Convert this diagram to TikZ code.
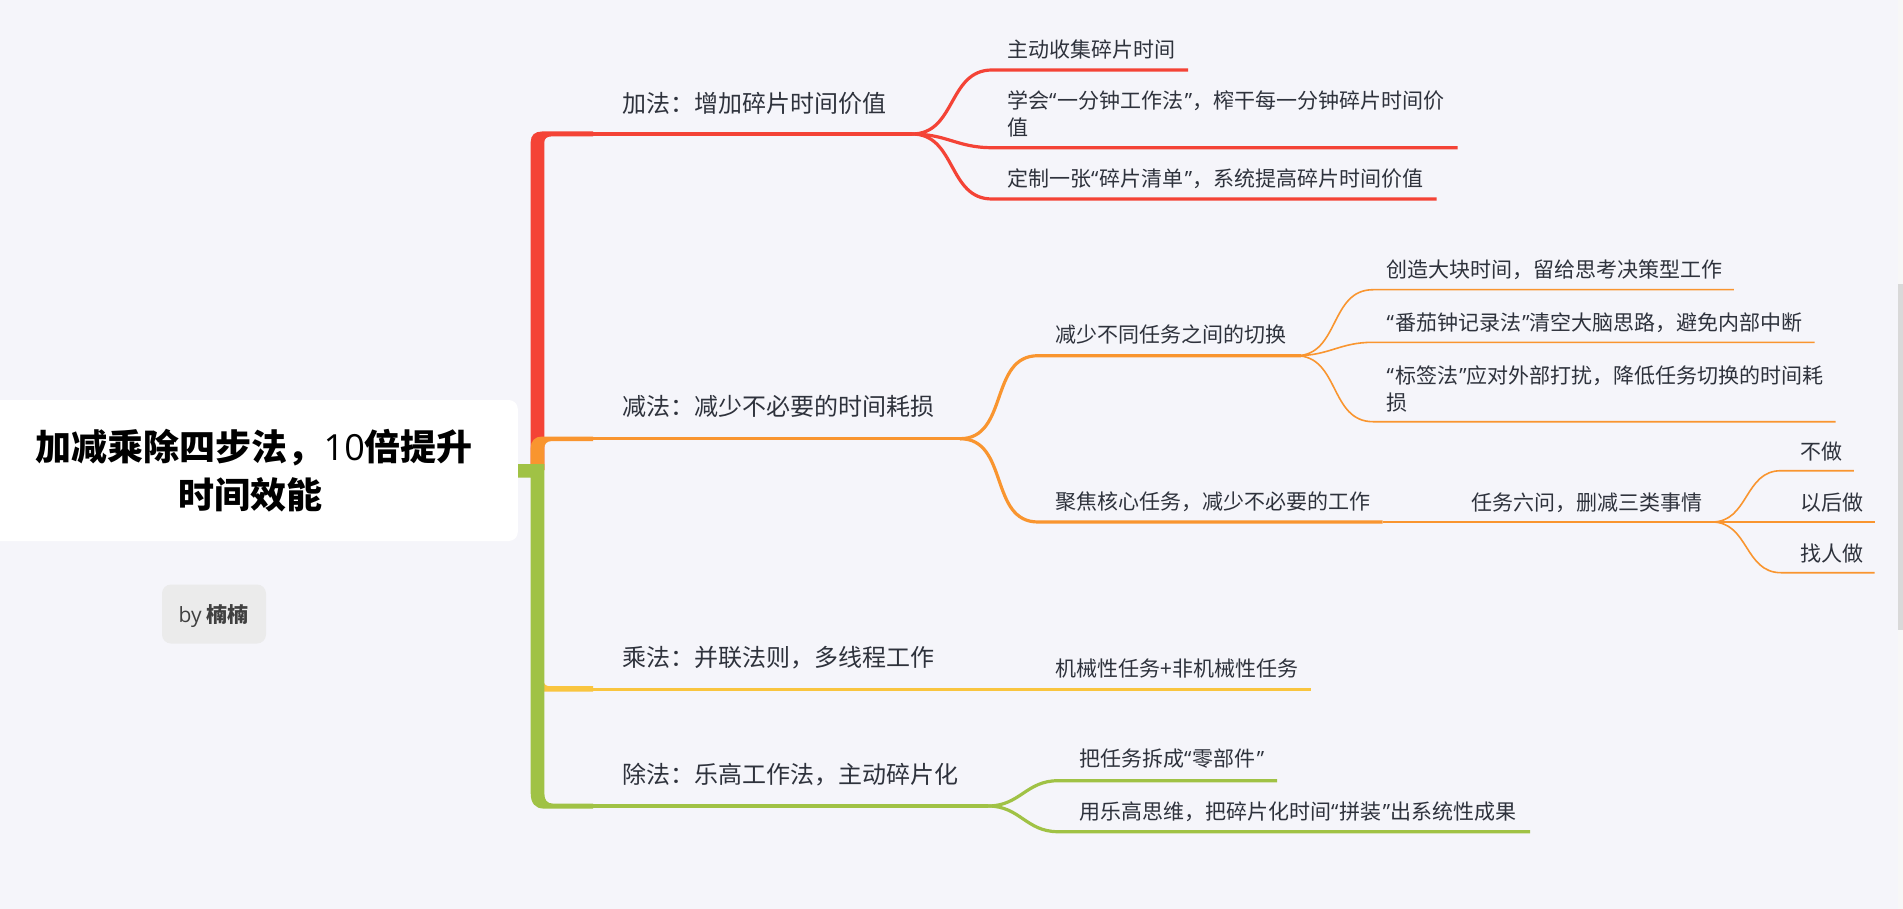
\documentclass[tikz,border=0pt]{standalone}
\usepackage{fontspec}
\setmainfont{Noto Sans CJK SC}
\newfontfamily\latn{Open Sans}
\newcommand{\lqm}{{\latn “}\hspace{1.2pt}}
\newcommand{\rqm}{\hspace{1.2pt}{\latn ”}}
\definecolor{bgc}{HTML}{F5F5FA}
\definecolor{redc}{HTML}{F44336}
\definecolor{orac}{HTML}{F9952F}
\definecolor{yelc}{HTML}{F9C53F}
\definecolor{grnc}{HTML}{A0C245}
\definecolor{txtc}{HTML}{2E323C}
\tikzset{
  topic/.style={anchor=west,inner sep=0pt,text=txtc,font=\fontsize{24}{30}\selectfont},
  leaf/.style={anchor=west,inner sep=0pt,text=txtc,align=left,font=\fontsize{21}{27}\selectfont},
  heavy/.style={line width=3.2pt},
  light/.style={line width=1.6pt},
  conn/.style={out=0,in=180,looseness=1.1}
}
\begin{document}
\begin{tikzpicture}[x=1pt,y=-1pt]
\useasboundingbox (0,0) rectangle (1903,909);
\fill[bgc] (0,0) rectangle (1903,909);
% scrollbar
\fill[gray!6] (1898.3,0) rectangle (1903,909);
\fill[black!15] (1898.3,284) rectangle (1903,630);
% root
\node[fill=white,rounded corners=9pt,minimum width=540pt,minimum height=141pt,inner sep=0pt,anchor=east] (root) at (518,470.5) {};
\node[inner sep=0pt,align=center,font=\fontsize{36}{47.5}\selectfont\bfseries] (title) at (250,470.5) {\hspace*{8.5pt}加减乘除四步法，{\latn\mdseries 10}倍提升\\时间效能};
\node[fill=black!8,rounded corners=9pt,minimum width=104pt,minimum height=59pt,inner sep=0pt] (by) at (214,614) {};
\node[inner sep=0pt,text=black!75,font=\fontsize{21}{27}\selectfont] (bytext) at (213.5,616) {{\latn by} \textbf{楠楠}};
% trunks
\fill[redc] (530.7,470) -- (530.7,142) .. controls (530.7,135) and (535,131.5) .. (542,131.5) -- (593,131.5) -- (593,136.5) -- (551,136.5) .. controls (547,136.5) and (544.3,138.5) .. (544.3,142.5) -- (544.3,470) -- cycle;
\fill[orac] (530.7,470) -- (530.7,448) .. controls (530.7,441) and (535,436.5) .. (542,436.5) -- (593,436.5) -- (593,441.2) -- (551,441.2) .. controls (547,441.2) and (544.3,444) .. (544.3,448) -- (544.3,470) -- cycle;
\fill[yelc] (543,680) .. controls (544.3,685) and (546,686.2) .. (550,686.2) -- (593,686.2) -- (593,691.6) -- (543,691.6) -- cycle;
\fill[grnc] (518,464) -- (544.3,464) -- (544.3,793) .. controls (544.3,800) and (547,803.6) .. (553,803.6) -- (593,803.6) -- (593,808.6) -- (544,808.6) .. controls (535,808.6) and (530.7,803) .. (530.7,793) -- (530.7,477.7) -- (518,477.7) -- cycle;
% topics
\node[topic] (t1) at (622.6,103) {加法：增加碎片时间价值};
\node[topic] (t2) at (622.6,406.6) {减法：减少不必要的时间耗损};
\node[topic] (t3) at (622.6,657.6) {乘法：并联法则，多线程工作};
\node[topic] (t4) at (622.6,774.5) {除法：乐高工作法，主动碎片化};
% leaves
\node[leaf] (a1) at (1007,50) {主动收集碎片时间};
\node[leaf] (a2) at (1007,114.3) {学会\lqm 一分钟工作法\rqm ，榨干每一分钟碎片时间价\\值};
\node[leaf] (a3) at (1007,179) {定制一张\lqm 碎片清单\rqm ，系统提高碎片时间价值};
\node[leaf] (b1) at (1055.5,334.5) {减少不同任务之间的切换};
\node[leaf] (b2) at (1055.5,502) {聚焦核心任务，减少不必要的工作};
\node[leaf] (c1) at (1386.5,269.3) {创造大块时间，留给思考决策型工作};
\node[leaf] (c2) at (1386.5,322.7) {\lqm 番茄钟记录法\rqm 清空大脑思路，避免内部中断};
\node[leaf] (c3) at (1386.5,389) {\lqm 标签法\rqm 应对外部打扰，降低任务切换的时间耗\\损};
\node[leaf] (d0) at (1471,502.7) {任务六问，删减三类事情};
\node[leaf] (d1) at (1800.7,451.7) {不做};
\node[leaf] (d2) at (1800.7,502.7) {以后做};
\node[leaf] (d3) at (1800.7,553.3) {找人做};
\node[leaf] (e1) at (1055.5,668.5) {机械性任务+非机械性任务};
\node[leaf] (f1) at (1079,758.6) {把任务拆成\lqm 零部件\rqm };
\node[leaf] (f2) at (1079,812) {用乐高思维，把碎片化时间\lqm 拼装\rqm 出系统性成果};
% junctions and ends
\coordinate (rs) at (593,134); \coordinate (rj) at (912,134);
\coordinate (ra1) at (992,70); \coordinate (ra1e) at (1188,70);
\coordinate (ra2) at (992,147.7); \coordinate (ra2e) at (1457.6,147.7);
\coordinate (ra3) at (992,199); \coordinate (ra3e) at (1436.5,199);
\coordinate (os) at (593,438.7); \coordinate (oj) at (960,438.7);
\coordinate (ob1) at (1038,355.7); \coordinate (ob1e) at (1301,355.7); \coordinate (ob1j) at (1296,355.7);
\coordinate (ob2) at (1038,522); \coordinate (ob2e) at (1382.7,522);
\coordinate (oc1) at (1373,289.7); \coordinate (oc1e) at (1733.8,289.7);
\coordinate (oc2) at (1373,342.3); \coordinate (oc2e) at (1814.6,342.3);
\coordinate (oc3) at (1373,421.7); \coordinate (oc3e) at (1835.7,421.7);
\coordinate (oj2) at (1712,522);
\coordinate (od1) at (1781,470.7); \coordinate (od1e) at (1853.8,470.7);
\coordinate (od2e) at (1874.6,522);
\coordinate (od3) at (1781,572.7); \coordinate (od3e) at (1874.6,572.7);
\coordinate (ys) at (593,689.5); \coordinate (ye) at (1311,689.5);
\coordinate (gs) at (593,806); \coordinate (gj) at (988,806);
\coordinate (gf1) at (1058,780.7); \coordinate (gf1e) at (1277,780.7);
\coordinate (gf2) at (1058,831.7); \coordinate (gf2e) at (1530,831.7);
% red
\draw[redc,heavy] (rs) -- (rj);
\draw[redc,heavy] (rj) to[conn] (ra1) -- (ra1e);
\draw[redc,heavy] (rj) to[conn] (ra2) -- (ra2e);
\draw[redc,heavy] (rj) to[conn] (ra3) -- (ra3e);
% orange
\draw[orac,heavy] (os) -- (oj);
\draw[orac,heavy] (oj) to[conn] (ob1) -- (ob1e);
\draw[orac,heavy] (oj) to[conn] (ob2) -- (ob2e);
\draw[orac,light] (ob1j) to[conn] (oc1) -- (oc1e);
\draw[orac,light] (ob1j) to[conn] (oc2) -- (oc2e);
\draw[orac,light] (ob1j) to[conn] (oc3) -- (oc3e);
\draw[orac,light] (ob2e) -- (oj2);
\draw[orac,light] (oj2) to[conn] (od1) -- (od1e);
\draw[orac,light] (oj2) -- (od2e);
\draw[orac,light] (oj2) to[conn] (od3) -- (od3e);
% yellow
\draw[yelc,heavy] (ys) -- (ye);
% green
\draw[grnc,heavy] (gs) -- (gj);
\draw[grnc,heavy] (gj) to[conn] (gf1) -- (gf1e);
\draw[grnc,heavy] (gj) to[conn] (gf2) -- (gf2e);
\end{tikzpicture}
\end{document}
